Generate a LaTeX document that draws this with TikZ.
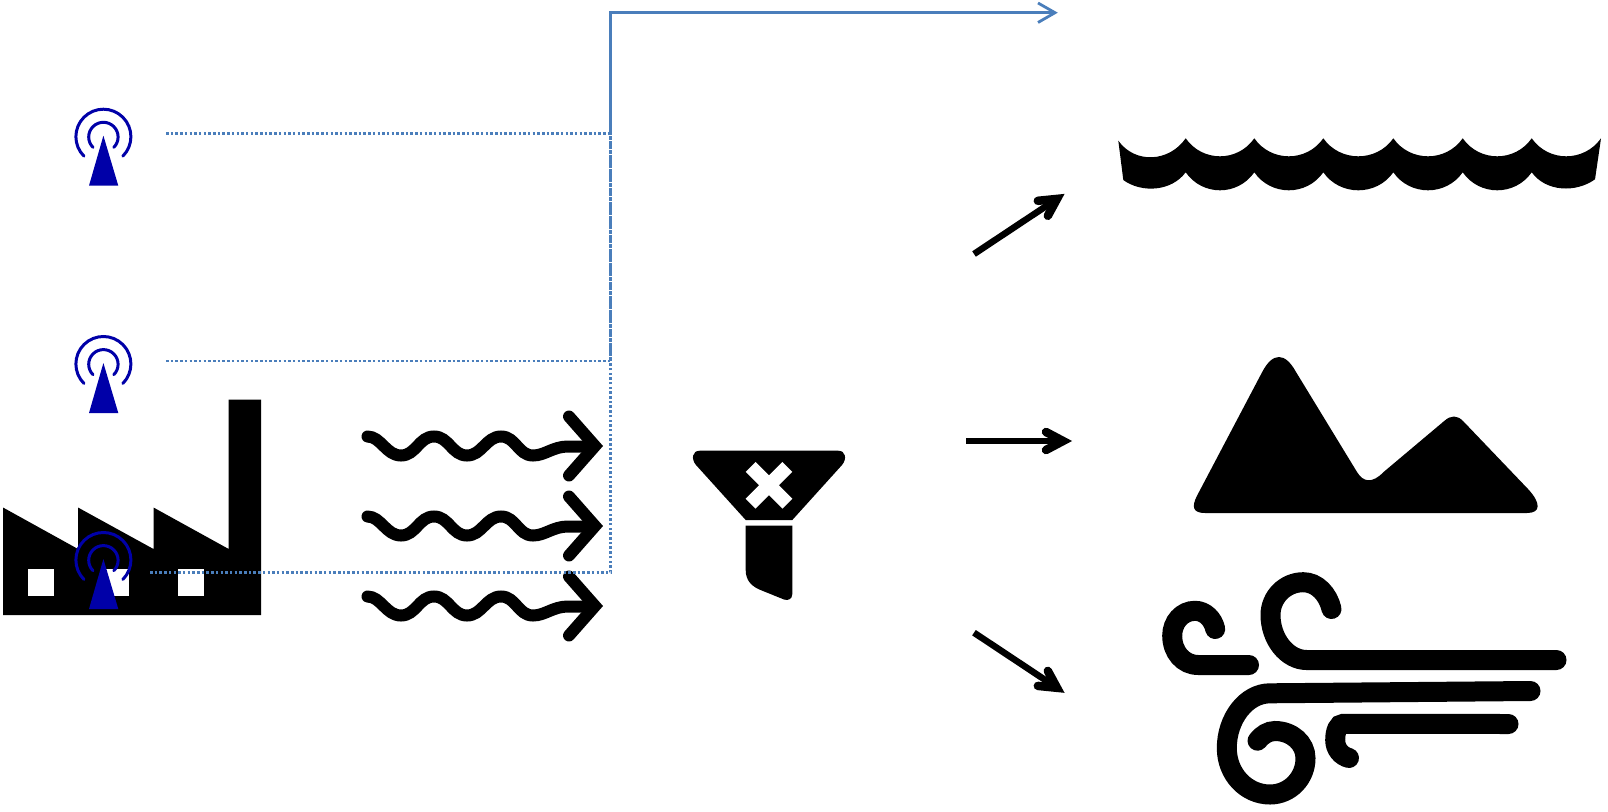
\documentclass[tikz,border=0pt]{standalone}
\definecolor{linkblue}{HTML}{4A7EBB}
\definecolor{antblue}{HTML}{0000A8}
\tikzset{
  dotlink/.style={draw=linkblue,line width=2.8pt,dash pattern=on 2.5pt off 2.2pt},
  antarc/.style={draw=antblue,line width=3pt,line cap=round},
  squig/.style={draw=black,line width=12pt,line cap=round,line join=miter},
  windline/.style={draw=black,line width=20pt,line cap=round},
  shaft/.style={draw=black,line width=6.5pt},
  barb/.style={draw=black,line width=8.5pt,line cap=round,line join=miter}
}
\newcommand{\barbhead}[2]{%
  \begin{scope}[shift={(#1)},rotate=#2]
    \draw[barb] (-17,-9) -- (0,0) -- (-17,9);
  \end{scope}}
\begin{document}
\begin{tikzpicture}[x=1pt,y=-1pt]
\useasboundingbox (0,0) rectangle (1608,811);
% factory
\fill[black] (3,507.5) -- (78,549) -- (78,507.5) -- (153.5,549) -- (153.5,507.5) -- (228.7,549)
  -- (228.7,399.5) -- (261,399.5) -- (261,615) -- (3,615) -- cycle;
\fill[white] (27.7,569.3) rectangle (53.7,595.7);
\fill[white] (102.7,569.3) rectangle (128.7,595.7);
\fill[white] (178,569.3) rectangle (204,595.7);
% antennas
\foreach \dy in {0,227.3,423.3}{
  \begin{scope}[shift={(0,\dy)}]
    \fill[antblue] (103.4,135.7) -- (118.3,185.7) -- (89,185.7) -- cycle;
    \draw[antarc] ([shift={(135:27.5)}]103.4,136.7) arc[start angle=135,end angle=405,radius=27.5];
    \draw[antarc] ([shift={(135:14.7)}]103.4,137) arc[start angle=135,end angle=405,radius=14.7];
  \end{scope}}
% squiggle arrows
\foreach \dy in {0,80,160}{
  \begin{scope}[shift={(0,\dy)}]
    \draw[squig] (367.5,436.5) .. controls (381,436.5) and (386,455.5) .. (401,455.5)
      .. controls (416,455.5) and (419,436.5) .. (434,436.5)
      .. controls (449,436.5) and (452,455.5) .. (467,455.5)
      .. controls (482,455.5) and (486,436.5) .. (501,436.5)
      .. controls (516,436.5) and (518,455.5) .. (533,455.5)
      .. controls (545,455.5) and (553,446.5) .. (568,446.5) -- (590,446.5);
    \draw[squig] (569,416.5) -- (595,446) -- (569,475.5);
  \end{scope}}
% connectors
\coordinate (out1) at (166,133.7);
\coordinate (out2) at (166,361);
\coordinate (out3) at (150,572.3);
\coordinate (turn) at (610.7,12.7);
\coordinate (tip) at (1055,12.7);
\coordinate (barbU) at (1038,3);
\coordinate (barbD) at (1038,22.5);
\foreach \o in {out1,out2,out3}{
  \draw[dotlink] (\o) -- (\o -| turn) -- (turn) -- (tip);
}
\draw[draw=linkblue,line width=2.8pt] (barbU) -- (tip) -- (barbD);
% filter
\fill[black] (700,450.7) -- (838,450.7) .. controls (846,450.7) and (847,459) .. (842,465)
  -- (792.3,520) -- (745.7,520) -- (696,465) .. controls (691,459) and (692,450.7) .. (700,450.7) -- cycle;
\fill[black] (745.7,525.7) -- (792.3,525.7) -- (792.3,594) .. controls (792.3,599) and (788,601) .. (784,599.5)
  -- (763,591) .. controls (752,587) and (745.7,581) .. (745.7,570) -- cycle;
\begin{scope}[shift={(769,485.3)},rotate=45]
  \fill[white] (-26,-7) -- (-7,-7) -- (-7,-26) -- (7,-26) -- (7,-7) -- (26,-7)
    -- (26,7) -- (7,7) -- (7,26) -- (-7,26) -- (-7,7) -- (-26,7) -- cycle;
\end{scope}
% black arrows
\coordinate (a1s) at (974,254);
\coordinate (a1e) at (1057,198.9);
\coordinate (a2s) at (966,441);
\coordinate (a2e) at (1063,441);
\coordinate (a3s) at (974,632.7);
\coordinate (a3e) at (1057,687.8);
\draw[shaft] (a1s) -- (a1e);
\draw[shaft] (a2s) -- (a2e);
\draw[shaft] (a3s) -- (a3e);
\barbhead{a1e}{33.6}
\barbhead{a2e}{0}
\barbhead{a3e}{-33.6}
% water
\fill[black] (1118.3,140.7)
  .. controls (1135,164) and (1169,162.3) .. (1185.7,138.3)
  .. controls (1202.4,162.3) and (1237.6,162.3) .. (1254.3,138.3)
  .. controls (1271,162.3) and (1306.6,162.3) .. (1323.3,138.3)
  .. controls (1340,162.3) and (1376.6,162.3) .. (1393.3,138.3)
  .. controls (1410,162.3) and (1446,162.3) .. (1462.7,138.3)
  .. controls (1479.4,162.3) and (1515,162.3) .. (1531.7,138.3)
  .. controls (1548.4,162.3) and (1584,162.3) .. (1601,138.3)
  -- (1595,179.3)
  .. controls (1576,193) and (1546,192) .. (1531.7,172.3)
  .. controls (1515,196.3) and (1479.4,196.3) .. (1462.7,172.3)
  .. controls (1446,196.3) and (1410,196.3) .. (1393.3,172.3)
  .. controls (1376.6,196.3) and (1340,196.3) .. (1323.3,172.3)
  .. controls (1306.6,196.3) and (1271,196.3) .. (1254.3,172.3)
  .. controls (1237.6,196.3) and (1202.4,196.3) .. (1185.7,172.3)
  .. controls (1171,192) and (1141,193) .. (1123.3,180) -- cycle;
% mountain
\fill[black] (1205,513) .. controls (1193,513) and (1191,507) .. (1197.4,495)
  -- (1262.2,372) .. controls (1272.7,352) and (1285,352) .. (1296,372)
  -- (1357,472) .. controls (1363,482) and (1372,484) .. (1383.6,472)
  -- (1444.2,421) .. controls (1451,415) and (1457,415) .. (1463,421)
  -- (1528,489) .. controls (1541,503) and (1541,513) .. (1527,513) -- cycle;
% wind
\draw[windline] (1215.2,629) .. controls (1213,619) and (1205,610.8) .. (1195,610.8)
  .. controls (1182,610.8) and (1172.2,622) .. (1172.2,635.7)
  .. controls (1172.2,652) and (1183,665) .. (1198.3,665) -- (1249,665);
\draw[windline] (1331.5,609) .. controls (1328,594) and (1317,582.2) .. (1303.3,582.2)
  .. controls (1285,582.2) and (1270.5,597) .. (1270.5,615)
  .. controls (1270.5,639) and (1287,660) .. (1306.7,660) -- (1556.5,660);
\draw[windline] (1530.5,691) -- (1270,693.3) .. controls (1246,693.3) and (1226.8,719) .. (1226.8,748)
  .. controls (1226.8,774) and (1246,794.5) .. (1270,794.5)
  .. controls (1290,794.5) and (1305.5,778) .. (1305.5,758.3)
  .. controls (1305.5,743) and (1292,731) .. (1275,731)
  .. controls (1268,731) and (1262,735) .. (1257.5,740.7);
\draw[windline] (1508.5,724) -- (1343.3,723.8) .. controls (1338,723.8) and (1335.2,731) .. (1335.2,740)
  .. controls (1335.2,749) and (1341,756) .. (1349,758);
\end{tikzpicture}
\end{document}
